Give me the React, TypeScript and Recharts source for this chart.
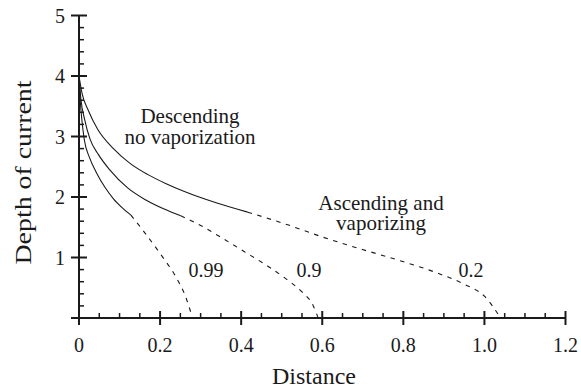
import React from "react";
import { Line, LineChart, XAxis, YAxis } from "recharts";

type Pt = { x: number; y: number };

// x axis: major ticks + labels, minor ticks every 0.05
const xMajor = [0, 0.2, 0.4, 0.6, 0.8, 1.0, 1.2];
const xLabels = ["0", "0.2", "0.4", "0.6", "0.8", "1.0", "1.2"];
const xMinor = Array.from({ length: 25 }, (_, i) => Math.round(i * 5) / 100);

// y axis: major ticks + labels, minor ticks every 0.2
const yMajor = [0, 1, 2, 3, 4, 5];
const yLabels = ["", "1", "2", "3", "4", "5"];
const yMinor = Array.from({ length: 26 }, (_, i) => Math.round(i * 2) / 10);

// curve 0.99
const c099Solid: Pt[] = [
  { x: 0, y: 4.0 },
  { x: 0.003, y: 3.6 },
  { x: 0.007, y: 3.28 },
  { x: 0.013, y: 2.95 },
  { x: 0.026, y: 2.65 },
  { x: 0.044, y: 2.39 },
  { x: 0.064, y: 2.16 },
  { x: 0.085, y: 1.97 },
  { x: 0.107, y: 1.82 },
  { x: 0.128, y: 1.7 },
];
const c099Dash: Pt[] = [
  { x: 0.128, y: 1.7 },
  { x: 0.161, y: 1.42 },
  { x: 0.206, y: 1.01 },
  { x: 0.239, y: 0.68 },
  { x: 0.263, y: 0.35 },
  { x: 0.28, y: 0.0 },
];

// curve 0.9
const c09Solid: Pt[] = [
  { x: 0, y: 4.0 },
  { x: 0.005, y: 3.6 },
  { x: 0.014, y: 3.28 },
  { x: 0.027, y: 2.96 },
  { x: 0.048, y: 2.7 },
  { x: 0.077, y: 2.44 },
  { x: 0.12, y: 2.15 },
  { x: 0.165, y: 1.95 },
  { x: 0.21, y: 1.8 },
  { x: 0.251, y: 1.69 },
];
const c09Dash: Pt[] = [
  { x: 0.251, y: 1.69 },
  { x: 0.3, y: 1.53 },
  { x: 0.346, y: 1.35 },
  { x: 0.407, y: 1.1 },
  { x: 0.465, y: 0.86 },
  { x: 0.51, y: 0.65 },
  { x: 0.55, y: 0.43 },
  { x: 0.578, y: 0.2 },
  { x: 0.59, y: 0.0 },
];

// curve 0.2
const c02Solid: Pt[] = [
  { x: 0, y: 4.0 },
  { x: 0.008, y: 3.7 },
  { x: 0.023, y: 3.43 },
  { x: 0.046, y: 3.12 },
  { x: 0.085, y: 2.8 },
  { x: 0.125, y: 2.56 },
  { x: 0.17, y: 2.37 },
  { x: 0.215, y: 2.22 },
  { x: 0.26, y: 2.09 },
  { x: 0.34, y: 1.9 },
  { x: 0.416, y: 1.75 },
];
const c02Dash: Pt[] = [
  { x: 0.416, y: 1.75 },
  { x: 0.515, y: 1.54 },
  { x: 0.6, y: 1.34 },
  { x: 0.69, y: 1.15 },
  { x: 0.786, y: 0.96 },
  { x: 0.885, y: 0.74 },
  { x: 0.95, y: 0.56 },
  { x: 1.0, y: 0.36 },
  { x: 1.04, y: 0.0 },
];

const W = 581;
const H = 388;
const ink = "#1a1a1a";
const font = "Liberation Serif, Tinos, DejaVu Serif, serif";
const dash = "4.5 5.5";

const near = (a: number, b: number) => Math.abs(a - b) < 1e-6;

function XTick(props: any) {
  const { x, y, payload } = props;
  const i = xMajor.findIndex((m) => near(m, payload.value));
  if (i < 0) {
    return <line x1={x} x2={x} y1={y} y2={y - 5} stroke={ink} strokeWidth={1.5} />;
  }
  return (
    <g>
      <line x1={x} x2={x} y1={y - 7} y2={y + 7} stroke={ink} strokeWidth={2} />
      <text x={x} y={y + 34} textAnchor="middle" fill={ink} style={{ fontFamily: font, fontSize: 20 }}>
        {xLabels[i]}
      </text>
    </g>
  );
}

function YTick(props: any) {
  const { x, y, payload } = props;
  const i = yMajor.findIndex((m) => near(m, payload.value));
  if (i < 0) {
    return <line x1={x} x2={x + 5} y1={y} y2={y} stroke={ink} strokeWidth={1.5} />;
  }
  return (
    <g>
      <line x1={x - 8} x2={x + 8} y1={y} y2={y} stroke={ink} strokeWidth={2} />
      <text x={x - 14} y={y + 7} textAnchor="end" fill={ink} style={{ fontFamily: font, fontSize: 20 }}>
        {yLabels[i]}
      </text>
    </g>
  );
}

const lineProps = {
  type: "monotone" as const,
  dataKey: "y",
  stroke: ink,
  strokeWidth: 1.1,
  dot: false,
  activeDot: false,
  isAnimationActive: false,
};

const txt = { fontFamily: font, fontSize: 21 };
const num = { fontFamily: font, fontSize: 20 };

export default function App() {
  return (
    <div style={{ position: "relative", width: W, height: H, background: "#fff", fontFamily: font }}>
      <style>{"body{margin:0}"}</style>
      <LineChart width={W} height={H} margin={{ top: 15.5, right: 15.5, bottom: 0, left: 0 }}>
        <XAxis
          dataKey="x"
          type="number"
          domain={[0, 1.2]}
          ticks={xMinor}
          interval={0}
          height={70}
          tickSize={0}
          tickMargin={0}
          tick={<XTick />}
          axisLine={{ stroke: ink, strokeWidth: 2 }}
          allowDataOverflow
        />
        <YAxis
          dataKey="y"
          type="number"
          domain={[0, 5]}
          ticks={yMinor}
          interval={0}
          width={79}
          tickSize={0}
          tickMargin={0}
          tick={<YTick />}
          axisLine={{ stroke: ink, strokeWidth: 2 }}
          allowDataOverflow
        />
        <Line {...lineProps} data={c099Solid} />
        <Line {...lineProps} data={c099Dash} strokeDasharray={dash} />
        <Line {...lineProps} data={c09Solid} />
        <Line {...lineProps} data={c09Dash} strokeDasharray={dash} />
        <Line {...lineProps} data={c02Solid} />
        <Line {...lineProps} data={c02Dash} strokeDasharray={dash} />
      </LineChart>
      <svg
        width={W}
        height={H}
        style={{ position: "absolute", left: 0, top: 0, pointerEvents: "none" }}
        fill={ink}
      >
        <text x={314} y={384} textAnchor="middle" style={{ fontFamily: font, fontSize: 24 }}>Distance</text>
        <text
          x={31}
          y={172.5}
          textAnchor="middle"
          transform="rotate(-90 31 172.5)"
          textLength={184}
          lengthAdjust="spacingAndGlyphs"
          style={{ fontFamily: font, fontSize: 24 }}
        >
          Depth of current
        </text>
        <text textAnchor="middle" style={txt}>
          <tspan x={190} y={123}>Descending</tspan>
          <tspan x={190} y={144}>no vaporization</tspan>
        </text>
        <text textAnchor="middle" style={txt}>
          <tspan x={381} y={210}>Ascending and</tspan>
          <tspan x={381} y={230}>vaporizing</tspan>
        </text>
        <text x={206} y={277} textAnchor="middle" style={num}>0.99</text>
        <text x={309} y={277} textAnchor="middle" style={num}>0.9</text>
        <text x={471} y={277} textAnchor="middle" style={num}>0.2</text>
      </svg>
    </div>
  );
}
